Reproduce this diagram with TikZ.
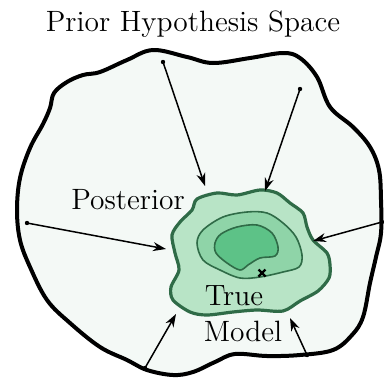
\documentclass[tikz,border=0pt]{standalone}
\usetikzlibrary{arrows.meta}
\definecolor{bgfill}{HTML}{F4F9F6}
\definecolor{g1}{HTML}{B8E4C6}
\definecolor{g2}{HTML}{8FD4A8}
\definecolor{g3}{HTML}{5DC287}
\definecolor{gline}{HTML}{2F6B47}
\tikzset{
  lbl/.style={font=\fontsize{14.7}{17}\selectfont, inner sep=0pt},
  conn/.style={line width=0.75pt, -{Stealth[length=6.5pt,width=4.5pt]}},
  dotpt/.style={fill=black, radius=1.1pt},
  contour/.style={draw=gline, line width=0.8pt},
  xmark/.style={line width=1.1pt},
}
\begin{document}
\begin{tikzpicture}[x=0.5pt,y=-0.5pt]
\useasboundingbox (0,0) rectangle (384,380);
\fill[white] (0,0) rectangle (384,380);
\node[lbl] (title) at (193,24) {Prior Hypothesis Space};
% outer hypothesis space
\draw[line width=2pt, fill=bgfill] plot[smooth cycle, tension=0.6] coordinates {
 (50,108) (54,93) (67,82) (83,75) (100,72) (127,60) (153,50) (187,57) (213,63) (250,58)
 (283,53) (300,58) (317,77) (330,107) (353,127) (370,147) (379,170) (381,200)
 (381,233) (376,257) (370,283) (363,317) (352,335) (333,350) (300,355) (267,356)
 (235,354) (215,362) (193,372) (173,375) (147,370) (127,360) (100,347) (70,323)
 (47,300) (30,267) (20,240) (17,210) (20,178) (30,148) (43,124)};
% posterior region
\draw[line width=1.6pt, draw=gline, fill=g1] plot[smooth cycle, tension=0.5] coordinates {
 (197,199) (217,193) (237,195) (260,190) (277,193) (290,203) (303,213) (307,227)
 (313,240) (327,253) (330,265) (329,278) (318,291) (300,301) (283,311) (257,310)
 (233,312) (207,315) (190,312) (173,300) (171,287) (179,270) (175,253) (172,235)
 (180,222) (192,210)};
\draw[contour, fill=g2] plot[smooth cycle, tension=0.55] coordinates {
 (197,243) (203,230) (223,217) (247,212) (267,213) (283,223) (296,237) (302,255)
 (299,267) (283,272) (260,277) (240,278) (220,270) (203,260)};
\draw[contour, fill=g3] plot[smooth cycle, tension=0.55] coordinates {
 (215,243) (221,234) (237,227) (257,225) (272,233) (278,247) (275,256) (260,258)
 (248,265) (240,270) (227,263) (216,253)};
% true model marker
\coordinate (x) at (262,273);
\draw[xmark] ([shift={(-3.5,-3.5)}]x) -- ([shift={(3.5,3.5)}]x);
\draw[xmark] ([shift={(-3.5,3.5)}]x) -- ([shift={(3.5,-3.5)}]x);
\node[lbl] (post) at (128,200) {Posterior};
\node[lbl] (true) at (234,296) {True};
\node[lbl] (model) at (243,331) {Model};
% arrows
\coordinate (s1) at (163,62);  \coordinate (e1) at (205,186);
\coordinate (s2) at (300,89);  \coordinate (e2) at (265,191);
\coordinate (s3) at (27,223);  \coordinate (e3) at (166,249);
\coordinate (s4) at (382,222); \coordinate (e4) at (313,241);
\coordinate (s5) at (145,368); \coordinate (e5) at (176,314);
\coordinate (s6) at (307,355); \coordinate (e6) at (290,318);
\foreach \i in {1,...,6}{
  \fill[dotpt] (s\i) circle;
  \draw[conn] (s\i) -- (e\i);
}
\end{tikzpicture}
\end{document}
